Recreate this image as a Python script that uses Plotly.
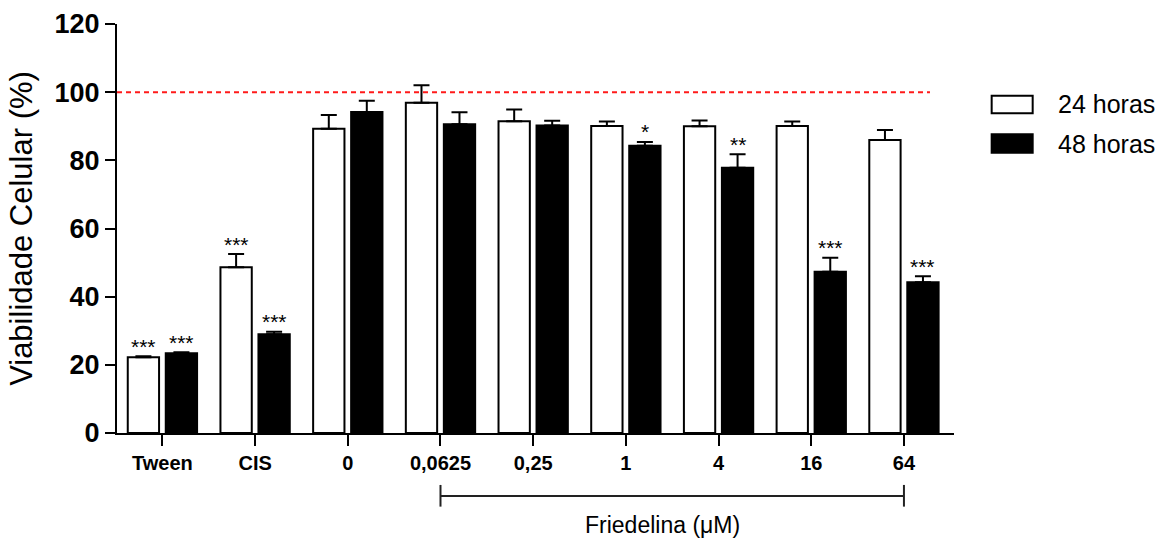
import plotly.graph_objects as go

# ---- data ----
categories = ["Tween", "CIS", "0", "0,0625", "0,25", "1", "4", "16", "64"]
series_names = ["24 horas", "48 horas"]
v24 = [22.2, 48.6, 89.3, 96.9, 91.5, 90.1, 90.0, 90.1, 86.0]
e24 = [0.3, 3.9, 4.0, 5.1, 3.4, 1.3, 1.7, 1.3, 2.9]
v48 = [23.4, 29.0, 94.2, 90.6, 90.2, 84.3, 77.8, 47.3, 44.2]
e48 = [0.3, 0.7, 3.3, 3.5, 1.4, 1.1, 4.0, 4.1, 1.8]
sig24 = ["***", "***", "", "", "", "", "", "", ""]
sig48 = ["***", "***", "", "", "", "*", "**", "***", "***"]
reference_level = 100
y_ticks = [0, 20, 40, 60, 80, 100, 120]
bracket_from, bracket_to = "0,0625", "64"
bracket_label = "Friedelina (μM)"
y_title = "Viabilidade Celular (%)"

FONT = "Liberation Sans, Arial, sans-serif"
XR = [-0.49, 8.54]

fig = go.Figure()
for name, vals, errs, fill in [(series_names[0], v24, e24, "white"),
                               (series_names[1], v48, e48, "black")]:
    fig.add_trace(go.Bar(
        x=categories, y=vals, name=name,
        marker=dict(color=fill, line=dict(color="black", width=2)),
        error_y=dict(type="data", symmetric=False, array=errs,
                     arrayminus=[0] * len(errs), color="black",
                     thickness=2, width=8),
        showlegend=False,
    ))

# significance stars
for i, cat in enumerate(categories):
    for vals, errs, sig, shift in [(v24, e24, sig24, -19), (v48, e48, sig48, 19)]:
        if sig[i]:
            fig.add_annotation(x=i, y=vals[i] + errs[i], xref="x", yref="y",
                               text=sig[i], showarrow=False, xshift=shift,
                               yanchor="middle", yshift=10,
                               font=dict(family=FONT, size=21, color="black"))

# reference dashed line
fig.add_shape(type="line", xref="paper", yref="y", x0=0, x1=0.9713,
              y0=reference_level, y1=reference_level,
              line=dict(color="#ff1a1a", width=2, dash="5px,4px"), layer="above")

# bracket below the axis
def to_paper(idx):
    return (idx - XR[0]) / (XR[1] - XR[0])

bx0 = to_paper(categories.index(bracket_from))
bx1 = to_paper(categories.index(bracket_to))
lc = dict(color="#222222", width=2)
fig.add_shape(type="line", xref="paper", yref="paper", x0=bx0, x1=bx1,
              y0=-0.154, y1=-0.154, line=lc)
for bx in (bx0, bx1):
    fig.add_shape(type="line", xref="paper", yref="paper", x0=bx, x1=bx,
                  y0=-0.127, y1=-0.180, line=lc)
fig.add_annotation(xref="paper", yref="paper", x=0.652, y=-0.226,
                   text=bracket_label, showarrow=False, yanchor="middle",
                   font=dict(family=FONT, size=23, color="black"))

# custom legend
leg = [(series_names[0], "white", 0.8247, 0.7817),
       (series_names[1], "black", 0.7303, 0.6853)]
for name, fill, ytop, ybot in leg:
    fig.add_shape(type="rect", xref="paper", yref="paper",
                  x0=1.045, x1=1.094, y0=ybot, y1=ytop,
                  fillcolor=fill, line=dict(color="black", width=2))
    fig.add_annotation(xref="paper", yref="paper", x=1.1219, y=(ytop + ybot) / 2,
                       text=name, showarrow=False, xanchor="left", yanchor="middle",
                       font=dict(family=FONT, size=25, color="black"))

fig.update_layout(
    width=1172, height=540,
    margin=dict(l=117, r=218, t=24, b=107),
    paper_bgcolor="white", plot_bgcolor="white",
    barmode="group", bargap=0.18, bargroupgap=0.176,
    font=dict(family=FONT, color="black"),
)
fig.update_xaxes(type="category", range=XR, showline=True, linecolor="black",
                 linewidth=2, ticks="outside", ticklen=11, tickwidth=2,
                 tickcolor="black", showgrid=False, zeroline=False, automargin=False,
                 tickfont=dict(family=FONT, size=20, color="black", weight="bold"))
fig.update_yaxes(range=[0, 120], tickvals=y_ticks, showline=True, linecolor="black",
                 linewidth=2, ticks="outside", ticklen=10, tickwidth=2,
                 tickcolor="black", showgrid=False, zeroline=False, automargin=False,
                 tickfont=dict(family=FONT, size=27, color="black", weight="bold"),
                 title=dict(text=y_title, standoff=13,
                            font=dict(family=FONT, size=31, color="black")))

fig.write_html("out.html", config={"displayModeBar": False},
               post_script="document.body.style.margin='0';document.body.style.overflow='hidden';")
